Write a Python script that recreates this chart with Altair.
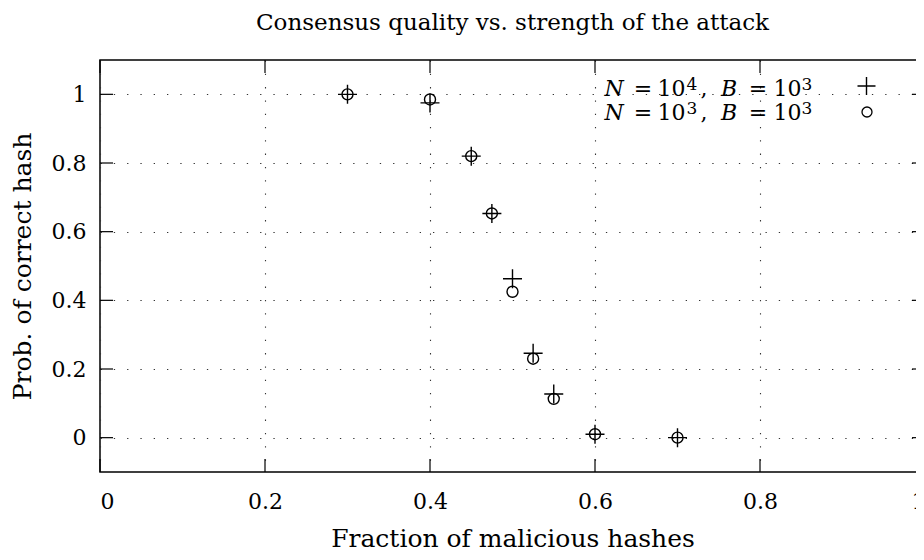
import altair as alt
import pandas as pd

# ---- data ----
fraction = [0.3, 0.4, 0.45, 0.475, 0.5, 0.525, 0.55, 0.6, 0.7]
prob_n4 = [1.0, 0.975, 0.82, 0.653, 0.463, 0.246, 0.127, 0.01, 0.0]
prob_n3 = [1.0, 0.985, 0.82, 0.653, 0.425, 0.23, 0.113, 0.01, 0.0]
x_ticks = [0, 0.2, 0.4, 0.6, 0.8, 1]
y_ticks = [0, 0.2, 0.4, 0.6, 0.8, 1]

TITLE = "Consensus quality vs. strength of the attack"
XTITLE = "Fraction of malicious hashes"
YTITLE = "Prob. of correct hash"

FONT = "DejaVu Serif"
FS = 22
W, H = 825, 412

df = pd.DataFrame({"x": fraction, "n4": prob_n4, "n3": prob_n3})
xt = pd.DataFrame({"t": x_ticks})
yt = pd.DataFrame({"t": y_ticks})

xs = alt.Scale(domain=[0, 1], nice=False, zero=False)
ys = alt.Scale(domain=[-0.1, 1.1], nice=False, zero=False)

PLUS = "M-1,0H1M0,-1V1"

base = alt.Chart(df)

axis_common = dict(
    domain=False, ticks=False, tickSize=0, grid=True, gridDash=[1.3, 12],
    gridColor="#333", gridWidth=1.1, labelFont=FONT, labelFontSize=FS,
    labelColor="black", titleFont=FONT, titleFontSize=25,
    titleFontWeight="normal", titleColor="black", format="~g",
)

plus = base.mark_point(shape=PLUS, size=361, filled=False, color="black",
                       strokeWidth=1.4, opacity=1).encode(
    x=alt.X("x:Q", scale=xs, axis=alt.Axis(values=x_ticks, title=XTITLE,
                                           labelPadding=19, titlePadding=14,
                                           **axis_common)),
    y=alt.Y("n4:Q", scale=ys, axis=alt.Axis(values=y_ticks, title=YTITLE,
                                            labelPadding=14, titlePadding=16,
                                            **axis_common)),
)
circ = base.mark_point(shape="circle", size=121, filled=False, color="black",
                       strokeWidth=1.4, opacity=1).encode(
    x=alt.X("x:Q", scale=xs), y=alt.Y("n3:Q", scale=ys))

# inward ticks on all four sides
TK = 13
tick_style = dict(color="black", strokeWidth=1.2)
bottom_t = alt.Chart(xt).mark_rule(**tick_style).encode(
    x=alt.X("t:Q", scale=xs), y=alt.value(H), y2=alt.value(H - TK))
top_t = alt.Chart(xt).mark_rule(**tick_style).encode(
    x=alt.X("t:Q", scale=xs), y=alt.value(0), y2=alt.value(TK))
left_t = alt.Chart(yt).mark_rule(**tick_style).encode(
    y=alt.Y("t:Q", scale=ys), x=alt.value(0), x2=alt.value(TK))
right_t = alt.Chart(yt).mark_rule(**tick_style).encode(
    y=alt.Y("t:Q", scale=ys), x=alt.value(W), x2=alt.value(W - TK))

# legend (top right, text then symbol); pieces centred on their positions
def piece(txt, x, y, italic=False, size=FS):
    return alt.Chart(df.head(1)).mark_text(
        text=txt, font=FONT, fontSize=size, align="center", baseline="alphabetic",
        fontStyle="italic" if italic else "normal", color="black").encode(
        x=alt.value(x), y=alt.value(y))

legend_layers = []
for exp_n, by in [("4", 36), ("3", 60)]:
    legend_layers += [
        piece("N", 514, by, italic=True),
        piece("=", 543, by),
        piece("10", 571.5, by),
        piece(exp_n, 592, by - 6, size=17),
        piece(",", 604, by),
        piece("B", 629, by, italic=True),
        piece("=", 658, by),
        piece("10", 687.5, by),
        piece("3", 707, by - 6, size=17),
    ]
leg_plus = alt.Chart(df.head(1)).mark_point(
    shape=PLUS, size=324, filled=False, color="black", strokeWidth=1.4, opacity=1
).encode(x=alt.value(766.5), y=alt.value(26))
leg_circ = alt.Chart(df.head(1)).mark_point(
    shape="circle", size=100, filled=False, color="black", strokeWidth=1.3, opacity=1
).encode(x=alt.value(767), y=alt.value(52))

chart = alt.layer(
    plus, circ, bottom_t, top_t, left_t, right_t, *legend_layers, leg_plus, leg_circ
).properties(
    width=W, height=H,
    title=alt.TitleParams(TITLE, font=FONT, fontSize=23, fontWeight="normal",
                          color="black", offset=24, anchor="middle"),
    autosize=alt.AutoSizeParams(type="none"),
    padding={"left": 92, "top": 52, "right": -9, "bottom": 80},
).configure_view(stroke="black", strokeWidth=1.5)

chart.save("out.html", embed_options={"renderer": "svg", "actions": False})
